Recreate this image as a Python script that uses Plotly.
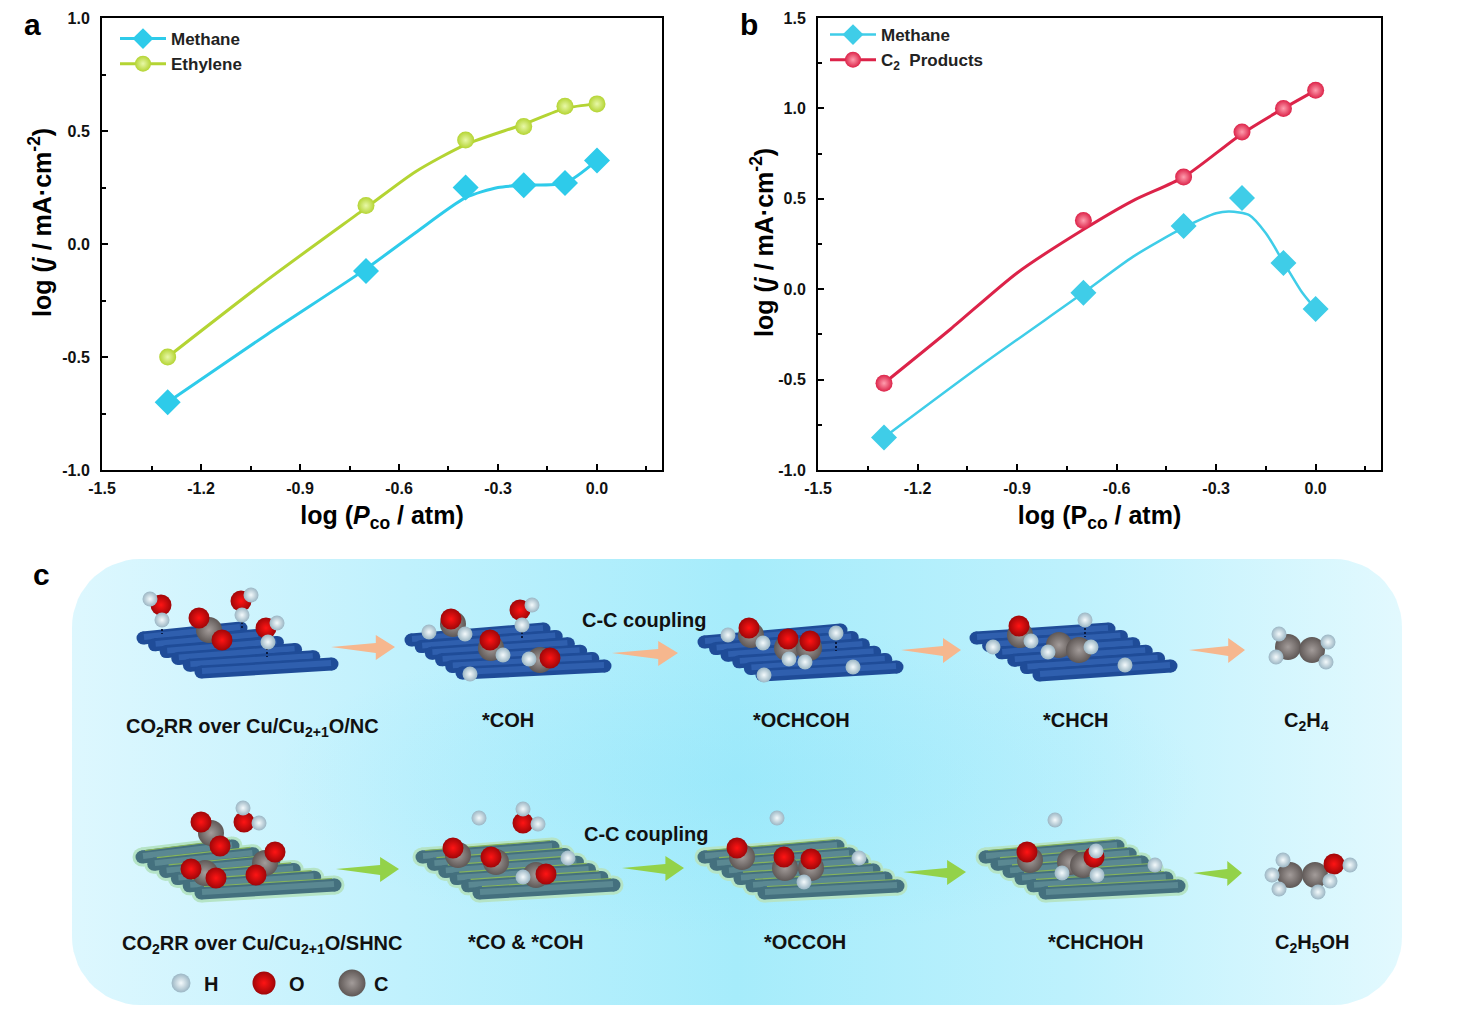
import numpy as np
import plotly.graph_objects as go

W, H = 1462, 1026

# chart data, panel a
xticks = [-1.5, -1.2, -0.9, -0.6, -0.3, 0.0]
xtick_text = ["-1.5", "-1.2", "-0.9", "-0.6", "-0.3", "0.0"]
a_yticks = [-1.0, -0.5, 0.0, 0.5, 1.0]
a_ytick_text = ["-1.0", "-0.5", "0.0", "0.5", "1.0"]
b_yticks = [-1.0, -0.5, 0.0, 0.5, 1.0, 1.5]
b_ytick_text = ["-1.0", "-0.5", "0.0", "0.5", "1.0", "1.5"]

log_p = [-1.301, -0.70, -0.398, -0.222, -0.097, 0.0]
a_methane = [-0.70, -0.12, 0.25, 0.26, 0.27, 0.37]
a_ethylene = [-0.50, 0.17, 0.46, 0.52, 0.61, 0.62]
b_methane = [-0.82, -0.02, 0.35, 0.505, 0.145, -0.11]
b_c2 = [-0.52, 0.38, 0.62, 0.87, 1.00, 1.10]

# fitted curves read separately, they miss some of the points
a_methane_fit_x = [-1.301, -1.0, -0.70, -0.55, -0.398, -0.30, -0.222, -0.097, 0.0]
a_methane_fit_y = [-0.70, -0.40, -0.11, 0.05, 0.205, 0.25, 0.26, 0.27, 0.37]
a_ethylene_fit_x = [-1.301, -1.0, -0.70, -0.55, -0.398, -0.222, -0.097, 0.0]
a_ethylene_fit_y = [-0.50, -0.16, 0.16, 0.32, 0.44, 0.53, 0.60, 0.62]
b_methane_fit_x = [-1.301, -1.0, -0.70, -0.55, -0.398, -0.30, -0.26, -0.20, -0.15, -0.097, -0.04, 0.0]
b_methane_fit_y = [-0.82, -0.41, -0.02, 0.18, 0.34, 0.42, 0.43, 0.41, 0.31, 0.15, -0.02, -0.11]
b_c2_fit_x = [-1.301, -1.1, -0.90, -0.70, -0.55, -0.398, -0.222, -0.097, 0.0]
b_c2_fit_y = [-0.52, -0.22, 0.09, 0.33, 0.49, 0.62, 0.86, 1.00, 1.10]

# colours
CYAN = "#2ECBEA"
LIME = "#B4D433"
RED = "#DC2349"

# schematic, all in image pixels
# sheet = back-left, front-left, back-right, front-right
blue_sheets = [
    [(139, 638), (197, 672), (245, 628), (336, 664)],
    [(407, 640), (458, 673), (548, 629), (609, 666)],
    [(700, 642), (758, 675), (845, 630), (901, 667)],
    [(972, 638), (1035, 675), (1113, 629), (1175, 666)],
]
teal_sheets = [
    [(138, 857), (197, 893), (237, 846), (339, 885)],
    [(418, 857), (475, 893), (557, 847), (618, 885)],
    [(700, 857), (760, 893), (842, 846), (902, 886)],
    [(981, 857), (1041, 893), (1122, 846), (1183, 886)],
]
c_atoms = [
    (209, 630), (453, 624), (491, 648), (540, 660), (751, 635), (787, 648), (809, 648),
    (1020, 635), (1059, 645), (1079, 650), (1288, 647), (1312, 650),
    (211, 833), (205, 873), (265, 863), (458, 855), (496, 862), (536, 875),
    (742, 857), (785, 868), (811, 868), (1030, 860), (1070, 862), (1083, 865),
    (1290, 875), (1315, 875),
]
o_atoms = [
    (161, 605), (199, 618), (222, 640), (241, 601), (266, 628),
    (451, 619), (490, 640), (550, 658), (520, 610),
    (749, 628), (788, 639), (810, 641), (1019, 626),
    (201, 822), (220, 846), (244, 822), (191, 869), (216, 878), (275, 852), (256, 875),
    (453, 848), (491, 857), (546, 874), (523, 823),
    (737, 848), (784, 857), (811, 859), (1027, 852), (1094, 857), (1334, 864),
]
h_atoms = [
    (150, 599), (162, 620), (251, 595), (242, 615), (277, 623), (268, 642),
    (429, 632), (465, 634), (503, 655), (529, 659), (532, 605), (522, 625), (470, 674),
    (728, 635), (763, 643), (789, 659), (805, 662), (836, 633), (764, 675), (853, 667),
    (993, 647), (1031, 641), (1048, 652), (1091, 647), (1085, 620), (1125, 665),
    (1279, 634), (1276, 657), (1328, 642), (1326, 662),
    (243, 808), (259, 823), (568, 858), (479, 818), (523, 809), (538, 824), (523, 877),
    (804, 882), (859, 858), (777, 818), (1055, 820), (1096, 851), (1097, 875), (1062, 873),
    (1155, 865), (1350, 865), (1283, 860), (1272, 875), (1279, 889), (1318, 892), (1330, 881),
]
key_atoms = [(181, 983, 19, "H"), (264, 983, 23, "O"), (352, 983, 27, "C")]
bond_dashes = [
    (162, 625, 634), (242, 622, 630), (267, 648, 657), (522, 632, 640), (836, 642, 651), (1085, 628, 637),
]
orange_arrows = [(331, 395, 647), (612, 678, 653), (901, 961, 650), (1189, 1245, 650)]
green_arrows = [(336, 399, 869), (622, 684, 868), (903, 966, 872), (1193, 1242, 873)]

panel_labels = [("a", 32, 24), ("b", 749, 24), ("c", 41, 574)]
scheme_labels = [
    ("CO<sub>2</sub>RR over Cu/Cu<sub>2+1</sub>O/NC", 252, 727),
    ("*COH", 508, 720),
    ("*OCHCOH", 801, 720),
    ("*CHCH", 1076, 720),
    ("C<sub>2</sub>H<sub>4</sub>", 1306, 721),
    ("C-C coupling", 644, 620),
    ("C-C coupling", 646, 834),
    ("CO<sub>2</sub>RR over Cu/Cu<sub>2+1</sub>O/SHNC", 262, 944),
    ("*CO &amp; *COH", 526, 942),
    ("*OCCOH", 805, 942),
    ("*CHCHOH", 1096, 942),
    ("C<sub>2</sub>H<sub>5</sub>OH", 1312, 943),
    ("H", 211, 984),
    ("O", 297, 984),
    ("C", 381, 984),
]
y_title = "log (<i>j</i> / mA·cm<sup>-2</sup>)"
y_title_spots = [(40, 223), (762, 243)]

FONT = "Liberation Sans"

fig = go.Figure()


def add_series(x, y, fit_x, fit_y, name, color, symbol, size, xa, ya, legend, center=None, width=3):
    fig.add_trace(go.Scatter(x=fit_x, y=fit_y, mode="lines", xaxis=xa, yaxis=ya, showlegend=False,
                             line=dict(color=color, width=width, shape="spline", smoothing=0.7)))
    marker = dict(color=color, size=size, symbol=symbol, line=dict(width=0))
    if center:
        marker["gradient"] = dict(type="radial", color=center)
    fig.add_trace(go.Scatter(x=x, y=y, mode="markers", xaxis=xa, yaxis=ya, showlegend=False, marker=marker))
    # legend entry needs line and marker together
    fig.add_trace(go.Scatter(x=[None], y=[None], mode="lines+markers", xaxis=xa, yaxis=ya, name=name,
                             legend=legend, line=dict(color=color, width=width), marker=marker))


add_series(log_p, a_methane, a_methane_fit_x, a_methane_fit_y, "Methane", CYAN, "diamond", 20, "x", "y", "legend")
add_series(log_p, a_ethylene, a_ethylene_fit_x, a_ethylene_fit_y, "Ethylene", LIME, "circle", 17, "x", "y", "legend",
           center="#E8F8A8")
add_series(log_p, b_methane, b_methane_fit_x, b_methane_fit_y, "Methane", "#3FCDE8", "diamond", 20, "x2", "y2",
           "legend2", width=2.5)
add_series(log_p, b_c2, b_c2_fit_x, b_c2_fit_y, "C<sub>2</sub>  Products", RED, "circle", 17, "x2", "y2", "legend2",
           center="#FF9DAE")

# rounded background of panel c
left, right, top, bot, rad = 72, 1402, 559, 1005, 68
t = np.linspace(0, np.pi / 2, 16)
bg_x = np.concatenate([left + rad - rad * np.cos(t), right - rad + rad * np.sin(t),
                       right - rad + rad * np.cos(t), left + rad - rad * np.sin(t)])
bg_y = np.concatenate([top + rad - rad * np.sin(t), top + rad - rad * np.cos(t),
                       bot - rad + rad * np.sin(t), bot - rad + rad * np.cos(t)])
fig.add_trace(go.Scatter(x=bg_x, y=bg_y, mode="lines", fill="toself", xaxis="x3", yaxis="y3", showlegend=False,
                         line=dict(width=0, color="rgba(0,0,0,0)"),
                         fillgradient=dict(type="horizontal",
                                           colorscale=[[0, "#DDF7FE"], [0.25, "#C0F1FD"], [0.5, "#A6ECFB"],
                                                       [0.75, "#BDF1FD"], [1, "#E2F9FE"]])))
fig.add_trace(go.Scatter(x=bg_x, y=bg_y, mode="lines", fill="toself", xaxis="x3", yaxis="y3", showlegend=False,
                         line=dict(width=0, color="rgba(0,0,0,0)"),
                         fillgradient=dict(type="radial",
                                           colorscale=[[0, "rgba(140,228,250,0.4)"], [0.7, "rgba(140,228,250,0)"],
                                                       [1, "rgba(140,228,250,0)"]])))


def roller(x0, y0, x1, y1, color, width, markers=True):
    fig.add_trace(go.Scatter(x=[x0, x1], y=[y0, y1], mode="lines+markers" if markers else "lines", xaxis="x3",
                             yaxis="y3", showlegend=False, line=dict(color=color, width=width),
                             marker=dict(color=color, size=width, line=dict(width=0))))


def draw_sheet(corners, body, shine, width=13, halo=None, stripe=None):
    (blx, bly), (flx, fly), (brx, bry), (frx, fry) = corners
    ends = []
    for k in np.linspace(0, 1, 6):
        ends.append((blx + (flx - blx) * k + 4, bly + (fly - bly) * k, brx + (frx - brx) * k - 4, bry + (fry - bry) * k))
    if halo:
        for e in ends:
            roller(e[0], e[1], e[2], e[3], halo, width + 6)
    for e in ends:
        roller(e[0], e[1], e[2], e[3], body, width)
        roller(e[0] + 1, e[1] - 1, e[2] - 1, e[3] - 1, shine, width * 0.45, markers=False)
        if stripe:
            roller(e[0] + 3, e[1] - width / 2, e[2] - 3, e[3] - width / 2, stripe, 1.2, markers=False)


for sheet in blue_sheets:
    draw_sheet(sheet, "#1F4C98", "#2F5FAE")
for sheet in teal_sheets:
    draw_sheet(sheet, "#44707E", "#5A8892", halo="#B5E4C6", stripe="#86B45C")


def draw_arrow(x0, x1, y, color):
    xb = x0 + (x1 - x0) * 0.7
    fig.add_trace(go.Scatter(x=[x0, xb, xb, x1, xb, xb, x0], y=[y, y - 4, y - 12, y, y + 13, y + 6, y],
                             mode="lines", fill="toself", fillcolor=color, xaxis="x3", yaxis="y3",
                             showlegend=False, line=dict(width=0, color=color)))


for a in orange_arrows:
    draw_arrow(a[0], a[1], a[2], "#F6B78E")
for a in green_arrows:
    draw_arrow(a[0], a[1], a[2], "#93D249")

dash_x, dash_y = [], []
for d in bond_dashes:
    dash_x += [d[0], d[0], None]
    dash_y += [d[1], d[2], None]
fig.add_trace(go.Scatter(x=dash_x, y=dash_y, mode="lines", xaxis="x3", yaxis="y3", showlegend=False,
                         line=dict(color="#0A1A40", width=2, dash="2px,2px")))

STYLE = {"H": ("#9BB6C4", "#F4FAFC"), "O": ("#A00608", "#FF1414"), "C": ("#5F5856", "#A39C9A")}


def draw_atoms(points, kind, size):
    edge, center = STYLE[kind]
    fig.add_trace(go.Scatter(x=[p[0] for p in points], y=[p[1] for p in points], mode="markers", xaxis="x3",
                             yaxis="y3", showlegend=False,
                             marker=dict(color=edge, size=size, line=dict(width=0),
                                         gradient=dict(type="radial", color=center))))


draw_atoms(c_atoms, "C", 26)
draw_atoms(o_atoms, "O", 21)
draw_atoms(h_atoms, "H", 15)
for k in key_atoms:
    draw_atoms([k], k[3], k[2])

annotations = []
for txt, x, y in panel_labels:
    annotations.append(dict(text=txt, x=x, y=y, xref="x3", yref="y3", showarrow=False,
                            font=dict(family=FONT, size=30, color="black", weight="bold")))
for txt, x, y in scheme_labels:
    annotations.append(dict(text=txt, x=x, y=y, xref="x3", yref="y3", showarrow=False,
                            font=dict(family=FONT, size=20, color="#111111", weight="bold")))
for x, y in y_title_spots:
    annotations.append(dict(text=y_title, x=x, y=y, xref="x3", yref="y3", showarrow=False, textangle=-90,
                            font=dict(family=FONT, size=25, color="black", weight="bold")))


def chart_axis(**kw):
    base = dict(showline=True, mirror=True, linecolor="black", linewidth=2, showgrid=False, zeroline=False,
                automargin=False, ticks="inside", ticklen=6, tickwidth=1.5, tickcolor="black",
                tickfont=dict(family=FONT, size=16, color="#111111", weight="bold"))
    base.update(kw)
    return base


title_font = dict(family=FONT, size=25, color="black", weight="bold")
x_minor = dict(dtick=0.15, ticks="inside", ticklen=4, tickwidth=1.5, tickcolor="black", showgrid=False)
y_minor = dict(dtick=0.25, ticks="inside", ticklen=4, tickwidth=1.5, tickcolor="black", showgrid=False)

legend_style = dict(bgcolor="rgba(0,0,0,0)", borderwidth=0, itemwidth=46, tracegroupgap=0,
                    font=dict(family=FONT, size=17, color="#222222", weight="bold"),
                    xanchor="left", yanchor="top")

fig.update_layout(
    width=W, height=H, margin=dict(l=0, r=0, t=0, b=0), paper_bgcolor="white", plot_bgcolor="rgba(0,0,0,0)",
    autosize=False, hovermode=False,
    xaxis=chart_axis(domain=[102 / W, 662 / W], range=[-1.5, 0.197], anchor="y", tickvals=xticks, ticktext=xtick_text,
                     minor=x_minor, ticklabelstandoff=3,
                     title=dict(text="log (<i>P</i><sub>co</sub> / atm)", font=title_font, standoff=10)),
    yaxis=chart_axis(domain=[1 - 470 / H, 1 - 18 / H], range=[-1, 1], anchor="x", tickvals=a_yticks,
                     ticktext=a_ytick_text, minor=y_minor, ticklabelstandoff=7),
    xaxis2=chart_axis(domain=[818 / W, 1381 / W], range=[-1.5, 0.197], anchor="y2", tickvals=xticks,
                      ticktext=xtick_text, minor=x_minor, ticklabelstandoff=3,
                      title=dict(text="log (P<sub>co</sub> / atm)", font=title_font, standoff=10)),
    yaxis2=chart_axis(domain=[1 - 470 / H, 1 - 18 / H], range=[-1, 1.5], anchor="x2", tickvals=b_yticks,
                      ticktext=b_ytick_text, minor=y_minor, ticklabelstandoff=7),
    xaxis3=dict(domain=[0, 1], range=[0, W], visible=False, anchor="y3", automargin=False),
    yaxis3=dict(domain=[0, 1], range=[H, 0], visible=False, anchor="x3", automargin=False),
    legend=dict(x=115 / W, y=1 - 21 / H, **legend_style),
    legend2=dict(x=825 / W, y=1 - 17 / H, **legend_style),
    annotations=annotations,
)

fig.write_html("out.html", config={"displayModeBar": False}, post_script="document.body.style.margin='0';")
